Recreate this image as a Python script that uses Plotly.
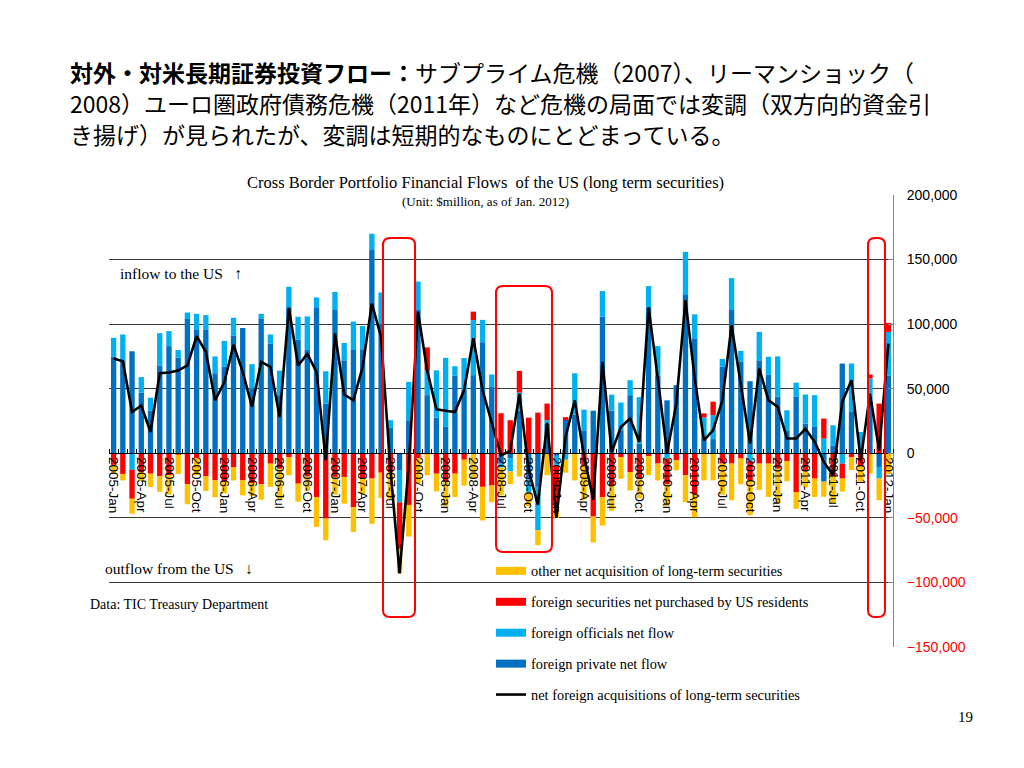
import plotly.graph_objects as go

# ---------------- data (US$ million) ----------------
month_names = ["Jan", "Feb", "Mar", "Apr", "May", "Jun", "Jul", "Aug", "Sep", "Oct", "Nov", "Dec"]
months = [f"{y}-{m}" for y in range(2005, 2013) for m in month_names][:85]

tick_labels = ["2005-Jan", "2005-Apr", "2005-Jul", "2005-Oct", "2006-Jan", "2006-Apr", "2006-Jul",
               "2006-Oct", "2007-Jan", "2007-Apr", "2007-Jul", "2007-Oct", "2008-Jan", "2008-Apr",
               "2008-Jul", "2008-Oct", "2009-Jan", "2009-Apr", "2009-Jul", "2009-Oct", "2010-Jan",
               "2010-Apr", "2010-Jul", "2010-Oct", "2011-Jan", "2011-Apr", "2011-Jul", "2011-Oct",
               "2012-Jan"]

private = [74700, 72000, 79000, 47000, 33000, 68000, 83000, 74000, 104000, 96000, 96000, 62000,
           67000, 91000, 97000, 50000, 104000, 85000, 45000, 113000, 88000, 80000, 113000, 38500,
           110900, 72000, 80000, 80000, 158000, 100000, 20000, -13000, 25600, 111000, 45000, 27600,
           20400, 60000, 48800, 60500, 86000, 51400, -8000, -4000, 33000, -20000, -26000, 23000,
           -2000, 26500, 30000, 17800, 33000, 106000, 33000, 17800, 45000, 7500, 113000, 60000,
           41000, 52700, 122500, 89000, 11000, 11000, 67000, 111600, 70800, 55800, 72000, 61000,
           44000, 17800, 43700, 23000, 20400, -22000, 6000, 69500, 32000, 2000, 40000, -10600,
           60000]

officials = [14700, 20000, -12700, 12000, 10000, 25000, 11600, 6000, 5000, 12000, 11000, 13000,
             20000, 14000, 0, 19000, 4000, 7000, 19000, 16000, 17700, 26000, 7700, 25000,
             14000, 13400, 22000, 18500, 12000, 24500, 5600, -25000, 29700, 22000, 19000, 36600,
             53500, 7400, 25000, 42600, 17300, 9600, -3000, -10000, 14000, -10000, -33600, 2600,
             -8000, -5000, 32000, 16000, 0, 19600, 12400, 21500, 11600, 36000, 16500, 23000,
             -4000, 0, 33500, 18600, 16800, 18500, 6000, 24000, 8500, -6000, 22000, 13700,
             31000, 15500, 11000, 22500, 24600, 11400, 15700, -8000, 37500, 14500, 18000, -9000,
             34000]

foreign_sec = [-9000, -16000, -22500, -14500, -15800, -17800, -17000, -1000, -24000, -4000, -17800, -21000,
               -22000, -11000, -21000, -23000, -24000, -8000, -12000, -3000, -23500, -18000, -34000, -50600,
               -18300, -18300, -41600, -20000, -19600, -15000, -14500, -36000, -40000, -4000, 18000, -15800,
               -22000, -15800, -5000, 6600, -26000, -25000, 31000, 25600, 16800, 27600, 31500, 12900,
               -33000, 1500, 0, -10000, -49000, -34000, -25000, -3000, -14500, -20000, -2300, -8000,
               -20000, -5400, -17000, -32000, 3100, 10500, -8000, -8000, -4000, -15000, -8000, -8000,
               -12000, -6000, -30000, -14000, -19600, 15500, -18000, -11600, -3000, -10000, 3000, 38500,
               7000]

other = [-7000, -5000, -11600, -7000, -10300, -12000, -15000, -15000, -15500, -13000, -11400, -13000,
         -9000, -10000, -11600, -10000, -12000, -18000, -24000, -14000, -14000, -11000, -23000, -16800,
         -13700, -20700, -19400, -11500, -35000, -19500, -20700, -19000, -24500, -19500, -17000, -13700,
         -19000, -18000, -20000, -20000, -26000, -13000, -21600, -10000, -18000, -11000, -11600, -17000,
         -7000, -10000, -21000, -26000, -20000, -22000, -19600, -16800, -14200, -15000, -14700, -13000,
         -16700, -7800, -20700, -17500, -21000, -21000, -24000, -28400, -20000, -27000, -20400, -25800,
         -27000, -15600, -13000, -12500, -14200, -11600, -20700, -10000, -10000, -12000, -15800, -16800,
         -16000]

net = [73400, 71300, 32000, 37000, 16500, 62000, 62500, 64000, 68000, 90700, 78600, 41000,
       55000, 84000, 63000, 36000, 70800, 67000, 28000, 112700, 68000, 77000, 63000, -5400,
       92800, 45500, 41000, 67000, 116000, 90000, -11000, -93000, -9000, 109600, 64000, 34000,
       33000, 32000, 49000, 89000, 48800, 23000, -1600, 1800, 46000, -13000, -40000, 23500,
       -50000, 12700, 41000, -2000, -36000, 70800, 1000, 20400, 27000, 8800, 113000, 58000,
       300, 38000, 118600, 58000, 10000, 18000, 41000, 99000, 55000, 7500, 65600, 41000,
       36000, 11400, 11400, 19000, 9000, -6700, -17000, 39800, 56600, -5500, 46000, 2300,
       85000]

y_ticks = [-150000, -100000, -50000, 0, 50000, 100000, 150000, 200000]
grid_vals = [-100000, -50000, 0, 50000, 100000, 150000]

# ---------------- styling ----------------
C_PRIV, C_OFF, C_SEC, C_OTH = "#0070C0", "#00B0F0", "#FF0000", "#FFC000"
SERIF = "Liberation Serif"
SANS = "Liberation Sans"
JP = "Noto Sans CJK JP"

OFF = 8                      # page body margin of the browser
FW, FH = 1008, 752           # figure size
L, R, T, B = 101, 123, 187, 113
W, H = FW - L - R, FH - T - B


def px(X):                   # screen pixel -> paper x
    return (X - OFF - L) / W


def py(Y):                   # screen pixel -> paper y
    return (FH - B - (Y - OFF)) / H


def fmt(v):
    s = f"{abs(v):,}"
    if v < 0:
        return f'<span style="color:#FF0000">\u2212{s}</span>'
    return s


x = list(range(len(months)))
fig = go.Figure()

series = [("foreign private net flow", private, C_PRIV),
          ("foreign officials net flow", officials, C_OFF),
          ("foreign securities net purchased by US residents", foreign_sec, C_SEC),
          ("other net acquisition of long-term securities", other, C_OTH)]
for name, vals, col in series:
    fig.add_trace(go.Bar(x=x, y=vals, name=name, marker_color=col, marker_line_width=0,
                         showlegend=False, customdata=months,
                         hovertemplate="%{customdata}: %{y:,}<extra>" + name + "</extra>"))

fig.add_trace(go.Scatter(x=x, y=net, mode="lines", name="net foreign acquisitions of long-term securities",
                         line=dict(color="black", width=2.6), showlegend=False, customdata=months,
                         hovertemplate="%{customdata}: %{y:,}<extra></extra>"))

# invisible trace to host the gridline axis
fig.add_trace(go.Scatter(x=[None], y=[None], yaxis="y2", showlegend=False, hoverinfo="skip"))

# legend entries (thick line symbols like the original)
legend_items = [("other net acquisition of long-term securities", C_OTH, 8),
                ("foreign securities net purchased by US residents", C_SEC, 8),
                ("foreign officials net flow", C_OFF, 8),
                ("foreign private net flow", C_PRIV, 8),
                ("net foreign acquisitions of long-term securities", "black", 2.6)]
for i, (name, col, w) in enumerate(legend_items):
    fig.add_trace(go.Scatter(x=[None], y=[None], mode="lines", name=name,
                             line=dict(color=col, width=w), legendgroup=f"g{i}",
                             hoverinfo="skip"))


def rounded(X0, Y0, X1, Y1, r=7):
    x0, x1 = px(X0), px(X1)
    y0, y1 = py(Y1), py(Y0)
    rx, ry = r / W, r / H
    return (f"M {x0+rx},{y0} L {x1-rx},{y0} Q {x1},{y0} {x1},{y0+ry} "
            f"L {x1},{y1-ry} Q {x1},{y1} {x1-rx},{y1} L {x0+rx},{y1} "
            f"Q {x0},{y1} {x0},{y1-ry} L {x0},{y0+ry} Q {x0},{y0} {x0+rx},{y0} Z")


shapes = [
    # white area behind the legend that interrupts the gridline
    dict(type="rect", xref="paper", yref="y", x0=px(460), x1=px(848), y0=-150000, y1=-80000,
         fillcolor="white", line=dict(width=0), layer="between"),
]
for box in [(383, 238, 415, 617), (496, 286, 552, 552), (868, 238, 885, 617)]:
    shapes.append(dict(type="path", xref="paper", yref="paper", path=rounded(*box),
                       line=dict(color="#FF0000", width=2), layer="above"))

title_lines = ["<b>対外・対米長期証券投資フロー：</b>サブプライム危機（2007）、リーマンショック（",
               "2008）ユーロ圏政府債務危機（2011年）など危機の局面では変調（双方向的資金引",
               "き揚げ）が見られたが、変調は短期的なものにとどまっている。"]
title_y = [72, 102.5, 134]

annotations = []
for line, yy in zip(title_lines, title_y):
    annotations.append(dict(text=line, xref="paper", yref="paper", x=px(68), y=py(yy),
                            xanchor="left", yanchor="middle", align="left", showarrow=False,
                            font=dict(family=JP, size=23, color="black")))

annotations += [
    dict(text="Cross Border Portfolio Financial Flows  of the US (long term securities)", xref="paper",
         yref="paper", x=px(485), y=py(182.5), xanchor="center", yanchor="middle", showarrow=False,
         font=dict(family=SERIF, size=16.5, color="black")),
    dict(text="(Unit: $million, as of Jan. 2012)", xref="paper", yref="paper", x=px(485), y=py(201.5),
         xanchor="center", yanchor="middle", showarrow=False, font=dict(family=SERIF, size=13, color="black")),
    dict(text="inflow to the US\u00a0\u00a0\u00a0↑", xref="paper", yref="paper", x=px(118), y=py(273),
         xanchor="left", yanchor="middle", showarrow=False, font=dict(family=SERIF, size=15.5, color="black")),
    dict(text="outflow from the US\u00a0\u00a0\u00a0↓", xref="paper", yref="paper", x=px(103), y=py(568),
         xanchor="left", yanchor="middle", showarrow=False, font=dict(family=SERIF, size=15.5, color="black")),
    dict(text="Data: TIC Treasury Department", xref="paper", yref="paper", x=px(88), y=py(604),
         xanchor="left", yanchor="middle", showarrow=False, font=dict(family=SERIF, size=14, color="black")),
    dict(text="19", xref="paper", yref="paper", x=px(966), y=py(717), xanchor="center",
         yanchor="middle", showarrow=False, font=dict(family=SERIF, size=15, color="black")),
]

fig.update_layout(
    width=FW, height=FH, template="none",
    margin=dict(l=L, r=R, t=T, b=B, pad=0),
    paper_bgcolor="white", plot_bgcolor="white",
    barmode="relative", bargap=0.42,
    showlegend=True,
    legend=dict(x=px(491), y=py(555), xanchor="left", yanchor="top", traceorder="grouped",
                tracegroupgap=9.2, bgcolor="rgba(0,0,0,0)", borderwidth=0,
                font=dict(family=SERIF, size=14.4, color="black")),
    xaxis=dict(range=[-0.5, len(months) - 0.5], anchor="free", position=150000 / 350000,
               showgrid=False, zeroline=False, showline=True, linecolor="black", linewidth=1,
               tickmode="array", tickvals=list(range(0, len(months), 3)), ticktext=tick_labels,
               tickangle=90, ticks="", tickfont=dict(family=SANS, size=13.5, color="black"),
               minor=dict(tickmode="linear", tick0=0.5, dtick=1, ticks="inside", ticklen=4,
                          tickcolor="black", showgrid=False)),
    yaxis=dict(side="right", range=[-150000, 200000], tickmode="array", tickvals=y_ticks,
               ticktext=[fmt(v) for v in y_ticks], showgrid=False, zeroline=False,
               showline=True, linecolor="#868686", linewidth=1, ticks="inside", ticklen=5,
               tickcolor="#868686", ticklabelstandoff=10,
               tickfont=dict(family=SANS, size=14, color="black")),
    yaxis2=dict(overlaying="y", side="right", range=[-150000, 200000], tickmode="array",
                tickvals=grid_vals, showticklabels=False, showgrid=True, gridcolor="#3a3a3a",
                gridwidth=1, zeroline=False, showline=False, ticks=""),
    shapes=shapes, annotations=annotations,
)

fig.write_html("out.html")
